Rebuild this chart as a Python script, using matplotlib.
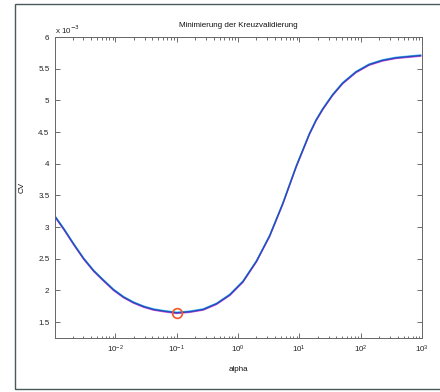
import numpy as np
import matplotlib
matplotlib.use("Agg")
import matplotlib.pyplot as plt
from matplotlib.patches import Rectangle
from matplotlib.ticker import FuncFormatter, FixedLocator, NullFormatter
from matplotlib.transforms import offset_copy

plt.rcParams['font.family'] = ['Liberation Sans', 'DejaVu Sans']

# data (alpha as log10, CV in units of 1e-3)
log_alpha = [-2.976, -2.84, -2.68, -2.516, -2.354, -2.19, -2.03, -1.867, -1.705, -1.54,
             -1.38, -1.22, -1.0, -0.784, -0.568, -0.35, -0.135, 0.08, 0.30, 0.515,
             0.73, 0.948, 1.055, 1.164, 1.273, 1.38, 1.542, 1.705, 1.922, 2.138,
             2.354, 2.571, 2.787, 2.977]
cv_milli = [3.155, 2.968, 2.73, 2.50, 2.31, 2.155, 2.01, 1.895, 1.81, 1.745,
            1.70, 1.675, 1.647, 1.665, 1.70, 1.79, 1.93, 2.14, 2.46, 2.86,
            3.37, 3.955, 4.21, 4.47, 4.687, 4.86, 5.085, 5.27, 5.446, 5.564,
            5.63, 5.67, 5.69, 5.707]
min_alpha = 0.1
min_cv_milli = 1.647

title = "Minimierung der Kreuzvalidierung"
xlabel = "alpha"
ylabel = "CV"
yticks_milli = [1.5, 2, 2.5, 3, 3.5, 4, 4.5, 5, 5.5, 6]
xticks = [1e-2, 1e-1, 1e0, 1e1, 1e2, 1e3]

alpha = 10 ** np.array(log_alpha)
cv = np.array(cv_milli) * 1e-3

fig = plt.figure(figsize=(4.4, 3.92), dpi=100)
fig.patch.set_facecolor('white')
ax = fig.add_axes([55/440, 1-338/392, (422-55)/440, (338-37)/392])

ax.plot(alpha, cv, color='#e050d8', lw=1.0, solid_joinstyle='round',
        transform=offset_copy(ax.transData, fig=fig, x=0, y=-0.45, units='points'))
ax.plot(alpha, cv, color='#40c8e8', lw=1.0, solid_joinstyle='round',
        transform=offset_copy(ax.transData, fig=fig, x=0, y=0.45, units='points'))
ax.plot(alpha, cv, color='#2a48c0', lw=1.1, solid_joinstyle='round')
ax.plot([min_alpha], [min_cv_milli*1e-3], 'o', mfc='none', mec='#f05a28', ms=7, mew=1.2)

ax.set_xscale('log')
ax.set_xlim(10**-2.985, 1e3)
ax.set_ylim(1.25e-3, 6e-3)
ax.set_yticks(np.array(yticks_milli) * 1e-3)
ax.yaxis.set_major_formatter(FuncFormatter(lambda v, p: f"{v*1e3:g}"))
ax.xaxis.set_major_locator(FixedLocator(xticks))
minor = [m * 10.0**e for e in range(-3, 3) for m in range(2, 10)]
minor = [m for m in minor if m > 10**-2.985]
ax.xaxis.set_minor_locator(FixedLocator(minor))
ax.xaxis.set_minor_formatter(NullFormatter())

fs = 5.8
ax.tick_params(which='both', direction='in', top=True, right=True, labelsize=fs,
               color='#555555', labelcolor='#222222', width=0.6)
ax.tick_params(which='major', length=3.5, pad=4)
ax.tick_params(which='minor', length=1.8)
for s in ax.spines.values():
    s.set_color('#666666')
    s.set_linewidth(0.7)

ax.set_title(title, fontsize=fs, pad=7, color='#111111')
ax.set_xlabel(xlabel, fontsize=fs, labelpad=8, color='#111111')
ax.set_ylabel(ylabel, fontsize=fs, labelpad=9, color='#111111')
fig.text(55/440, 1-30/392, r"x 10$^{-3}$", fontsize=fs, ha='left', va='center', color='#222222')

fig.add_artist(Rectangle((15/440, 1-389/392), 1.2, (389-4)/392, transform=fig.transFigure,
                         fill=False, edgecolor='#4a5a5a', lw=1.0))

fig.savefig("out.png", dpi=100)
